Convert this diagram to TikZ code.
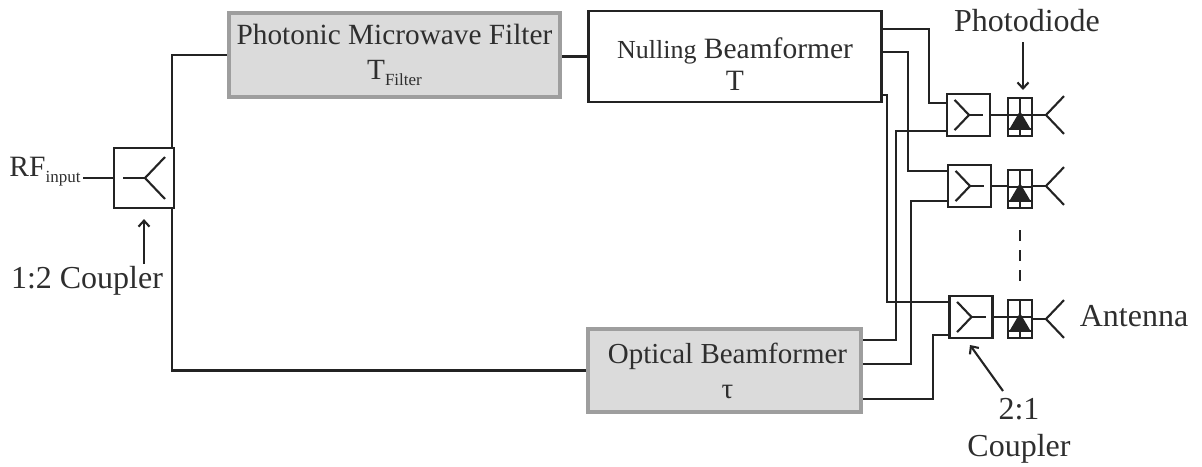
\documentclass[tikz,border=0pt]{standalone}
\usepackage{fontspec}
\setmainfont{Liberation Serif}
\usetikzlibrary{positioning,arrows.meta}

\definecolor{wirecol}{HTML}{232323}
\definecolor{labelcol}{HTML}{2E2E2E}
\newcommand{\lowtxt}[1]{\raisebox{-6pt}{\fontsize{17}{17}\selectfont #1}}

\tikzset{
  wire/.style={draw=wirecol, line width=2.1pt},
  plainbox/.style={draw=wirecol, line width=2.2pt, fill=white, inner sep=0pt, align=center, text=labelcol},
  greybox/.style={draw=black!38, line width=4pt, fill=black!14, inner sep=0pt, align=center, text=labelcol},
  label/.style={inner sep=0pt, align=center, text=labelcol, font=\fontsize{32}{37}\selectfont},
  pointer/.style={wire, -{Straight Barb[length=6pt, width=11pt]}},
  arms/.pic={\draw[wire] (20,-21) -- (0,0) -- (20,21);}
}

\begin{document}
\begin{tikzpicture}[x=1pt, y=-1pt]
  \useasboundingbox (0,0) rectangle (1202,466);

  % main blocks
  \node[greybox, minimum width=331pt, minimum height=84pt, font=\fontsize{29.3}{35}\selectfont] (filter) at (394.5,55) {Photonic Microwave Filter\\T\lowtxt{Filter}};
  \node[plainbox, minimum width=293pt, minimum height=91pt, font=\fontsize{29.5}{32}\selectfont] (nulling) at (735,56.5) {\raisebox{0pt}[36pt][6pt]{\fontsize{26}{32}\selectfont Nulling} Beamformer\\T};
  \node[greybox, minimum width=273pt, minimum height=83pt, font=\fontsize{29}{35}\selectfont] (optical) at (724.5,370.5) {\hspace*{6pt}Optical Beamformer\\\hspace*{6pt}τ};
  \node[plainbox, minimum width=60pt, minimum height=60pt] (split) at (144,178) {};
  \pic[scale=1] at (145,178) {arms};
  \draw[wire] (123,178) -- (145,178);

  % 2:1 couplers, photodiodes, antennas
  \foreach \n/\cx/\cy/\py/\ay in {A/968.5/115/117/115, B/969.5/186/189/186, C/971/317/319/319} {
    \node[plainbox, minimum width=43pt, minimum height=42pt] (cpl\n) at (\cx,\cy) {};
    \node[plainbox, minimum width=24pt, minimum height=38pt] (diode\n) at (1020,\py) {};
    \coordinate (ant\n) at (1046,\ay);
    \pic[xscale=-.72, yscale=.72] at ([xshift=.5pt]cpl\n.center) {arms};
    \draw[wire] (cpl\n.center) ++(.5,0) -- ++(14,0);
    \draw[wire] (cpl\n.east) -- (cpl\n.east -| diode\n.west);
    \draw[wire] (ant\n) -- (ant\n -| diode\n.east);
    \pic[scale=.9] at (ant\n) {arms};
    \begin{scope}[shift={(diode\n.center)}]
      \draw[wire] (0,-19) -- (0,19) (-12,-2) -- (12,-2) (-12,12) -- (12,12);
      \fill[wirecol] (0,-6) -- (10,11) -- (-10,11) -- cycle;
    \end{scope}
  }

  % signal paths
  \coordinate (rfin) at (83,178);
  \draw[wire] (rfin) -- (split.west);
  \draw[wire] ([xshift=-3pt]split.north east) |- (filter.west);
  \draw[wire] ([xshift=-3pt]split.south east) |- (optical.west);
  \draw[wire] (filter.east |- nulling.west) -- (nulling.west);
  \draw[wire] (nulling.east |- 0,29) -| (929,103) -- (cplA.west |- 0,103);
  \draw[wire] (nulling.east |- 0,52) -| (908,171) -- (cplB.west |- 0,171);
  \draw[wire] (nulling.east |- 0,95) -| (887,302) -- (cplC.west |- 0,302);
  \draw[wire] (optical.east |- 0,340) -| (896,131) -- (cplA.west |- 0,131);
  \draw[wire] (optical.east |- 0,364) -| (911,201) -- (cplB.west |- 0,201);
  \draw[wire] (optical.east |- 0,399) -| (933,335) -- (cplC.west |- 0,335);
  \draw[wire, dash pattern=on 11pt off 9pt] (diodeB.south |- 0,230) -- (diodeC.north |- 0,284);

  % labels
  \node[label, font=\fontsize{29.5}{32}\selectfont] (rflabel) at (45,172) {RF\lowtxt{input}};
  \node[label] (splitlabel) at (87,281) {1:2 Coupler};
  \node[label] (pdlabel) at (1027,21) {Photodiode};
  \node[label] (antlabel) at (1134,316) {Antenna};
  \node[label] (cpllabel) at (1019,431) {2:1\\Coupler};
  \draw[pointer] (144,264) -- ([yshift=-10pt]split.south);
  \draw[pointer] (pdlabel.south -| 1023,0) ++(0,10) -- (1023,90);
  \draw[pointer] (1003,391) -- (970,345);
\end{tikzpicture}
\end{document}
